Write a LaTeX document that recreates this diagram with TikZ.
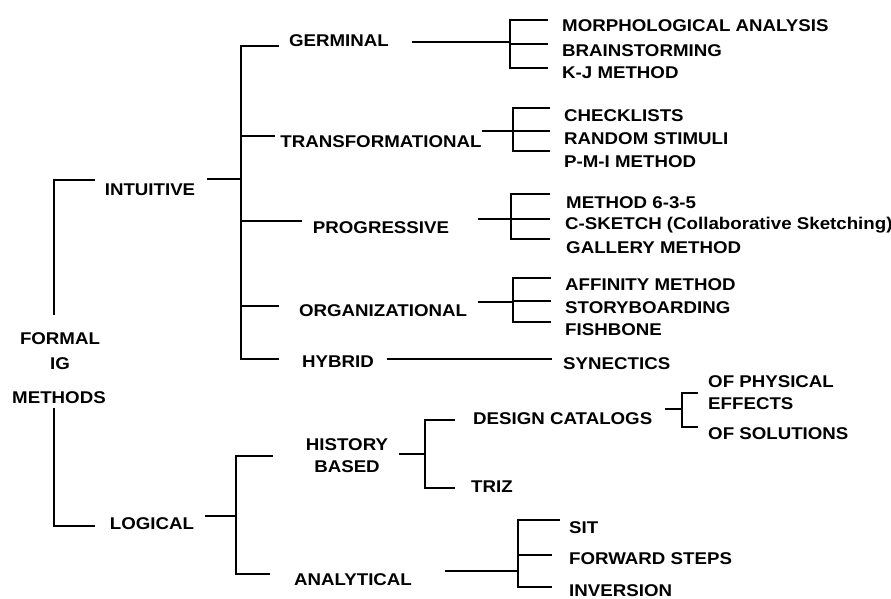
\documentclass[tikz,border=0pt]{standalone}
\usepackage{fontspec}
\setmainfont[FakeStretch=1.1]{Liberation Sans}
\begin{document}
\begin{tikzpicture}[x=1pt,y=-1pt,
  lbl/.style={font=\fontsize{17}{20}\selectfont\bfseries, inner sep=0pt,
              text height=12pt, text depth=0pt},
  leaf/.style={lbl, anchor=west},
  wire/.style={line width=1.3pt, line cap=butt, line join=miter}]
\fill[white] (0,0) rectangle (891,599);
\useasboundingbox (0,0) rectangle (891,599);

% ---- root ----
\node[lbl] (formal)  at (60,338) {FORMAL};
\node[lbl] (ig)      at (60,363) {IG};
\node[lbl] (methods) at (59,397) {METHODS};

% ---- first level ----
\node[lbl] (intuitive) at (150,189) {INTUITIVE};
\node[lbl] (logical)   at (152,523) {LOGICAL};

% ---- intuitive groups ----
\node[lbl] (germinal)  at (339,41)  {GERMINAL};
\node[lbl] (transf)    at (381,141) {TRANSFORMATIONAL};
\node[lbl] (progr)     at (381,227) {PROGRESSIVE};
\node[lbl] (organ)     at (383,310) {ORGANIZATIONAL};
\node[lbl] (hybrid)    at (338,361) {HYBRID};

% ---- logical groups ----
\node[lbl] (history)    at (347,444) {HISTORY};
\node[lbl] (based)      at (347,466) {BASED};
\node[lbl] (analytical) at (353,579) {ANALYTICAL};
\node[leaf] (catalogs)  at (473,418) {DESIGN CATALOGS};
\node[leaf] (triz)      at (471,486) {TRIZ};
\node[leaf] (physical)  at (708,381) {OF PHYSICAL};
\node[leaf] (effects)   at (708,403) {EFFECTS};
\node[leaf] (solutions) at (708,433) {OF SOLUTIONS};

% ---- methods ----
\node[leaf] (morph)     at (562,26)  {MORPHOLOGICAL ANALYSIS};
\node[leaf] (brain)     at (562,51)  {BRAINSTORMING};
\node[leaf] (kj)        at (562,73)  {K-J METHOD};
\node[leaf] (check)     at (564,116) {CHECKLISTS};
\node[leaf] (random)    at (564,138) {RANDOM STIMULI};
\node[leaf] (pmi)       at (564,161) {P-M-I METHOD};
\node[leaf] (m635)      at (566,202) {METHOD 6-3-5};
\node[leaf] (csketch)   at (565,223) {C-SKETCH (Collaborative Sketching)};
\node[leaf] (gallery)   at (566,247) {GALLERY METHOD};
\node[leaf] (affinity)  at (565,284) {AFFINITY METHOD};
\node[leaf] (story)     at (565,307) {STORYBOARDING};
\node[leaf] (fishbone)  at (565,329) {FISHBONE};
\node[leaf] (synectics) at (563,363) {SYNECTICS};
\node[leaf] (sit)       at (569,527) {SIT};
\node[leaf] (forward)   at (569,558) {FORWARD STEPS};
\node[leaf] (inversion) at (569,590) {INVERSION};

% ---- connectors ----
% root bracket
\coordinate (rIt) at (95,180);  \coordinate (rTop) at (54,315);
\coordinate (rBot) at (54,408); \coordinate (rLo) at (95,526);
\draw[wire] (rIt) -| (rTop);
\draw[wire] (rBot) |- (rLo);

% intuitive bracket
\coordinate (iS) at (207,179); \coordinate (iJ) at (241,179);
\draw[wire] (iS) -- (iJ);
\coordinate (iG) at (279,46);  \coordinate (iT) at (275,136);
\coordinate (iP) at (302,221); \coordinate (iO) at (279,306);
\coordinate (iH) at (279,359);
\draw[wire] (iG) -| (241,359) -- (iH);
\draw[wire] (241,136) -- (iT);
\draw[wire] (241,221) -- (iP);
\draw[wire] (241,306) -- (iO);

% germinal bracket
\coordinate (gS) at (412,42);
\draw[wire] (gS) -- (510,42);
\coordinate (g1) at (548,20); \coordinate (g2) at (548,44); \coordinate (g3) at (548,68);
\draw[wire] (g1) -| (510,68) -- (g3);
\draw[wire] (510,44) -- (g2);

% transformational bracket
\coordinate (tS) at (482,131);
\draw[wire] (tS) -- (513,131);
\coordinate (t1) at (550,108); \coordinate (t2) at (550,131); \coordinate (t3) at (550,151);
\draw[wire] (t1) -| (513,151) -- (t3);
\draw[wire] (513,131) -- (t2);

% progressive bracket
\coordinate (pS) at (478,219);
\draw[wire] (pS) -- (511,219);
\coordinate (p1) at (550,194); \coordinate (p2) at (550,219); \coordinate (p3) at (550,239);
\draw[wire] (p1) -| (511,239) -- (p3);
\draw[wire] (511,219) -- (p2);

% organizational bracket
\coordinate (oS) at (478,302);
\draw[wire] (oS) -- (513,302);
\coordinate (o1) at (551,278); \coordinate (o2) at (551,301); \coordinate (o3) at (551,322);
\draw[wire] (o1) -| (513,322) -- (o3);
\draw[wire] (513,301) -- (o2);

% hybrid
\coordinate (hS) at (387,359); \coordinate (hE) at (552,359);
\draw[wire] (hS) -- (hE);

% logical bracket
\coordinate (lS) at (205,516);
\draw[wire] (lS) -- (236,516);
\coordinate (lH) at (273,456); \coordinate (lA) at (270,574);
\draw[wire] (lH) -| (236,574) -- (lA);

% history based bracket
\coordinate (hbS) at (399,454);
\draw[wire] (hbS) -- (425,454);
\coordinate (hb1) at (455,420); \coordinate (hb2) at (455,488);
\draw[wire] (hb1) -| (425,488) -- (hb2);

% design catalogs bracket
\coordinate (dS) at (665,409);
\draw[wire] (dS) -- (682,409);
\coordinate (d1) at (698,393); \coordinate (d2) at (698,427);
\draw[wire] (d1) -| (682,427) -- (d2);

% analytical bracket
\coordinate (aS) at (445,571);
\draw[wire] (aS) -- (518,571);
\coordinate (a1) at (560,520); \coordinate (a2) at (552,555); \coordinate (a3) at (552,587);
\draw[wire] (a1) -| (518,587) -- (a3);
\draw[wire] (518,555) -- (a2);
\end{tikzpicture}
\end{document}
